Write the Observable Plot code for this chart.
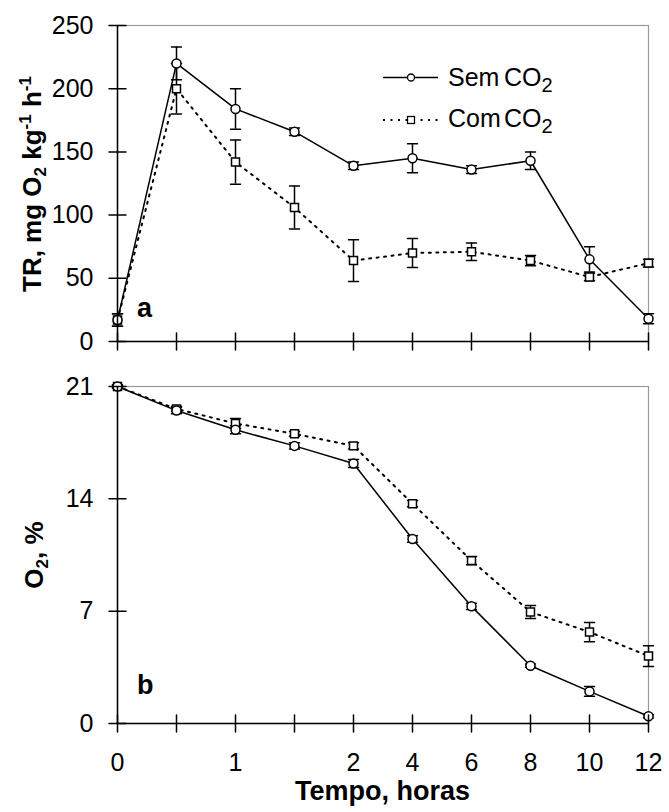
<!DOCTYPE html>
<html><head><meta charset="utf-8">
<script src="https://cdn.jsdelivr.net/npm/d3@7"></script>
<script src="https://cdn.jsdelivr.net/npm/@observablehq/plot@0.6"></script>
<style>
body{margin:0;background:#fff;}
#wrap{position:relative;width:669px;height:812px;font-family:"Liberation Sans",Arial,sans-serif;}
#wrap svg{display:block;}
</style></head><body><div id="wrap"></div>
<script>
// ---- data ----
const times = [0, 0.5, 1, 1.5, 2, 4, 6, 8, 10, 12];
const labeledTimes = [0, 1, 2, 4, 6, 8, 10, 12];
const seriesNames = ["Sem CO2", "Com CO2"];

const semTR    = [17, 220, 184, 166, 139, 145, 136, 143, 65, 18];
const semTRerr = [5, 13, 16, 3, 3, 11.5, 3, 7, 10, 4];
const comTR    = [17, 200, 142, 106, 64, 70, 71, 64, 51, 62];
const comTRerr = [5, 20, 17.5, 17, 16.5, 11.5, 7, 4, 3, 3];

const semO2    = [21, 19.5, 18.3, 17.3, 16.2, 11.5, 7.3, 3.6, 2.0, 0.45];
const semO2err = [0.1, 0.2, 0.25, 0.2, 0.25, 0.2, 0.2, 0.1, 0.3, 0.1];
const comO2    = [21, 19.6, 18.7, 18.05, 17.3, 13.7, 10.15, 6.95, 5.7, 4.2];
const comO2err = [0.1, 0.15, 0.3, 0.15, 0.2, 0.2, 0.25, 0.4, 0.6, 0.65];

const trTicks = [0, 50, 100, 150, 200, 250];
const o2Ticks = [0, 7, 14, 21];

// ---- helpers ----
const rows = (vals, errs) => times.map((t, i) => ({t, v: vals[i], e: errs[i]}));
const seg = {draw(ctx, l) { ctx.moveTo(0, 0); ctx.lineTo(0, -l); }};
const FONT = '"Liberation Sans", Arial, sans-serif';
const DOTTED = "2,5.5";

function panel({sem, com, yDomain, yTicks, height, marginTop, marginBottom, xLabels}) {
  const marks = [
    Plot.frame({stroke: "#9a9a9a", strokeWidth: 1.2}),
    ...[sem, com].flatMap(d => [
      Plot.ruleX(d, {x: "t", y1: r => r.v - r.e, y2: r => r.v + r.e, stroke: "black", strokeWidth: 1.5}),
      Plot.vector(d, {x: "t", y: r => r.v + r.e, rotate: 90, length: 10, anchor: "middle", shape: seg, stroke: "black", strokeWidth: 1.5}),
      Plot.vector(d, {x: "t", y: r => r.v - r.e, rotate: 90, length: 10, anchor: "middle", shape: seg, stroke: "black", strokeWidth: 1.5})
    ]),
    Plot.line(com, {x: "t", y: "v", stroke: "black", strokeWidth: 2, strokeDasharray: DOTTED}),
    Plot.line(sem, {x: "t", y: "v", stroke: "black", strokeWidth: 1.5}),
    Plot.dot(com, {x: "t", y: "v", symbol: "square", r: 4.5, fill: "white", stroke: "black", strokeWidth: 1.5}),
    Plot.dot(sem, {x: "t", y: "v", symbol: "circle", r: 4.5, fill: "white", stroke: "black", strokeWidth: 1.5}),
    Plot.ruleY([yDomain[0]], {stroke: "black", strokeWidth: 1.5}),
    Plot.ruleX([times[0]], {stroke: "black", strokeWidth: 1.5}),
    Plot.vector(yTicks, {x: times[0], y: d => d, rotate: 90, length: 17, anchor: "middle", shape: seg, stroke: "black", strokeWidth: 1.5}),
    Plot.vector(times, {x: d => d, y: yDomain[0], rotate: 0, length: 17, anchor: "middle", shape: seg, stroke: "black", strokeWidth: 1.5}),
    Plot.axisY({ticks: yTicks, tickSize: 0, tickPadding: 24, label: null, fontSize: 25})
  ];
  if (xLabels) marks.push(Plot.axisX({ticks: labeledTimes, tickSize: 0, tickPadding: 30, label: null, fontSize: 25, tickFormat: d => String(d)}));
  return Plot.plot({
    width: 669, height, marginLeft: 117, marginRight: 21, marginTop, marginBottom,
    style: {fontFamily: FONT, fontSize: "25px", color: "black", background: "white"},
    x: {type: "point", domain: times, padding: 0, axis: null},
    y: {domain: yDomain, axis: null},
    marks
  });
}

const wrap = document.getElementById("wrap");

// ---- top panel ----
const topSvg = panel({sem: rows(semTR, semTRerr), com: rows(comTR, comTRerr), yDomain: [0, 250], yTicks: trTicks,
  height: 370, marginTop: 25, marginBottom: 29, xLabels: false});
wrap.appendChild(topSvg);
{
  const s = d3.select(topSvg);
  const t = s.append("text").attr("transform", "translate(41,184) rotate(-90)")
    .attr("text-anchor", "middle").attr("font-weight", "bold").attr("font-size", 26).attr("fill", "black");
  t.append("tspan").text("TR, mg O");
  t.append("tspan").attr("font-size", 17).attr("dy", 5).text("2");
  t.append("tspan").attr("dy", -5).text(" kg");
  t.append("tspan").attr("font-size", 17).attr("dy", -10).text("-1");
  t.append("tspan").attr("dy", 10).text(" h");
  t.append("tspan").attr("font-size", 17).attr("dy", -10).text("-1");
  s.append("text").attr("x", 137).attr("y", 317).attr("text-anchor", "start").attr("font-weight", "bold").attr("font-size", 27).attr("fill", "black").text("a");
  const lg = s.append("g").attr("text-anchor", "start");
  lg.append("line").attr("x1", 383).attr("x2", 438).attr("y1", 77.5).attr("y2", 77.5).attr("stroke", "black").attr("stroke-width", 1.5);
  lg.append("circle").attr("cx", 411).attr("cy", 77.5).attr("r", 3.5).attr("fill", "white").attr("stroke", "black").attr("stroke-width", 1.3);
  lg.append("line").attr("x1", 383).attr("x2", 438).attr("y1", 120).attr("y2", 120).attr("stroke", "black").attr("stroke-width", 2).attr("stroke-dasharray", DOTTED);
  lg.append("rect").attr("x", 407.5).attr("y", 116.5).attr("width", 7).attr("height", 7).attr("fill", "white").attr("stroke", "black").attr("stroke-width", 1.3);
  [[seriesNames[0], 85.5], [seriesNames[1], 126.5]].forEach(([name, y]) => {
    const [a, b] = name.split(" ");
    lg.append("text").attr("x", 448).attr("y", y).attr("font-size", 25).attr("fill", "black").text(a);
    const tt = lg.append("text").attr("x", 504).attr("y", y).attr("font-size", 25).attr("fill", "black");
    tt.append("tspan").text(b.slice(0, 2));
    tt.append("tspan").attr("font-size", 20).attr("dy", 6).text(b.slice(2));
  });
}

// ---- bottom panel ----
const botSvg = panel({sem: rows(semO2, semO2err), com: rows(comO2, comO2err), yDomain: [0, 21], yTicks: o2Ticks,
  height: 442, marginTop: 16, marginBottom: 89, xLabels: true});
wrap.appendChild(botSvg);
{
  const s = d3.select(botSvg);
  const t = s.append("text").attr("transform", "translate(43,185) rotate(-90)")
    .attr("text-anchor", "middle").attr("font-weight", "bold").attr("font-size", 26).attr("fill", "black");
  t.append("tspan").text("O");
  t.append("tspan").attr("font-size", 17).attr("dy", 5).text("2");
  t.append("tspan").attr("dy", -5).text(", %");
  s.append("text").attr("x", 137).attr("y", 324).attr("text-anchor", "start").attr("font-weight", "bold").attr("font-size", 27).attr("fill", "black").text("b");
  s.append("text").attr("x", 382.5).attr("y", 430).attr("text-anchor", "middle").attr("font-weight", "bold").attr("font-size", 27).attr("fill", "black").text("Tempo, horas");
}
</script></body></html>
